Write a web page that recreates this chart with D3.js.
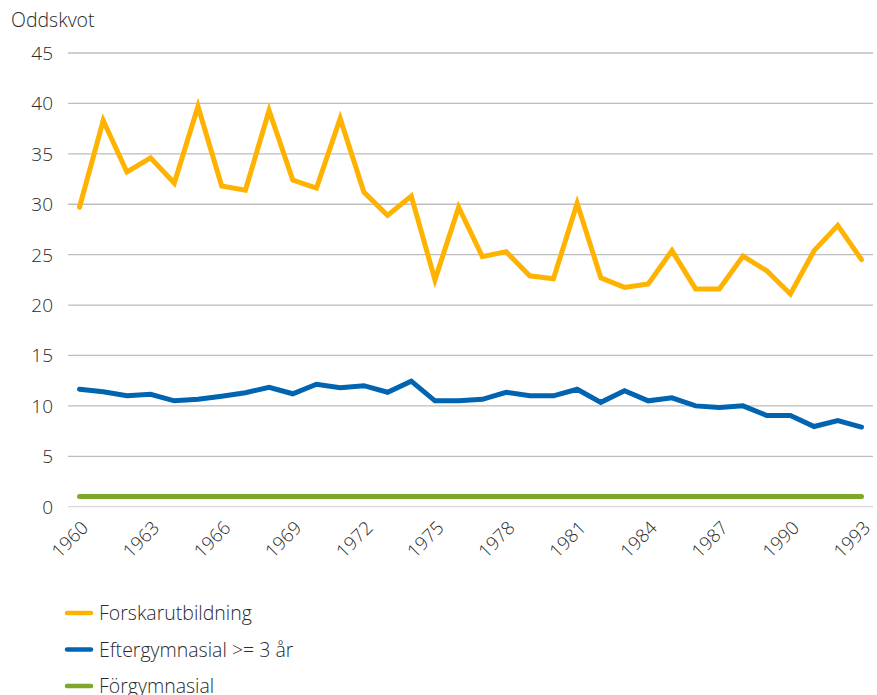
<!DOCTYPE html>
<html><head><meta charset="utf-8">
<script src="https://cdn.jsdelivr.net/npm/d3@7"></script>
<style>body{margin:0;background:#fff;} text{font-family:"Open Sans",Lato,sans-serif;font-weight:300;fill:#2a2a2a;}</style>
</head><body>
<svg id="c" width="877" height="695"></svg>
<script>
const years = d3.range(1960, 1994);
const forskar = [29.7,38.3,33.2,34.6,32.1,39.7,31.8,31.4,39.3,32.4,31.6,38.5,31.2,28.9,30.8,22.5,29.7,24.8,25.3,22.9,22.6,30.1,22.7,21.75,22.1,25.4,21.6,21.6,24.85,23.4,21.1,25.4,27.9,24.5];
const efter = [11.65,11.4,11.0,11.15,10.5,10.65,10.95,11.3,11.85,11.2,12.15,11.8,12.0,11.35,12.45,10.5,10.5,10.65,11.35,11.0,11.0,11.65,10.35,11.5,10.5,10.8,10.0,9.85,10.0,9.05,9.05,7.95,8.55,7.9];
const forgym = years.map(() => 1);
const yTicks = [0,5,10,15,20,25,30,35,40,45];
const xTickYears = [1960,1963,1966,1969,1972,1975,1978,1981,1984,1987,1990,1993];
const seriesNames = ["Forskarutbildning","Eftergymnasial >= 3 år","Förgymnasial"];
const colors = ["#FFB300","#0064B0","#7CA82B"];

const svg = d3.select("#c");
const x = d3.scaleLinear().domain([1960,1993]).range([79.5,861.5]);
const y = d3.scaleLinear().domain([0,45]).range([506.7,53]);

// gridlines
svg.append("g").selectAll("line").data(yTicks).join("line")
  .attr("x1",68).attr("x2",873).attr("y1",d=>y(d)).attr("y2",d=>y(d))
  .attr("stroke",d=>d===0?"#d9d9d9":"#bdbdbd").attr("stroke-width",1.3);

// y labels
svg.append("g").selectAll("text").data(yTicks).join("text")
  .attr("x",53).attr("y",d=>y(d)+7).attr("text-anchor","end")
  .attr("font-size",19).text(d=>d);

svg.append("text").attr("x",11).attr("y",27).attr("font-size",19.5).text("Oddskvot");

// x labels
svg.append("g").selectAll("text").data(xTickYears).join("text")
  .attr("text-anchor","end").attr("font-size",18.5)
  .attr("transform",d=>`translate(${x(d)+10},${529}) rotate(-45)`)
  .text(d=>d);

const line = d3.line().x((d,i)=>x(years[i])).y(d=>y(d));
[forgym, efter, forskar].forEach((s,k)=>{
  const idx = 2-k;
  svg.append("path").datum(s).attr("d",line).attr("fill","none")
    .attr("stroke",colors[idx]).attr("stroke-width",5)
    .attr("stroke-linejoin","miter").attr("stroke-linecap","round");
});

// legend
const lg = svg.append("g").selectAll("g").data(seriesNames).join("g")
  .attr("transform",(d,i)=>`translate(0,${613+i*36.5})`);
lg.append("line").attr("x1",67).attr("x2",91).attr("y1",0).attr("y2",0)
  .attr("stroke",(d,i)=>colors[i]).attr("stroke-width",4.5).attr("stroke-linecap","round");
lg.append("text").attr("x",99).attr("y",7).attr("font-size",19.5).text(d=>d);
</script>
</body></html>
